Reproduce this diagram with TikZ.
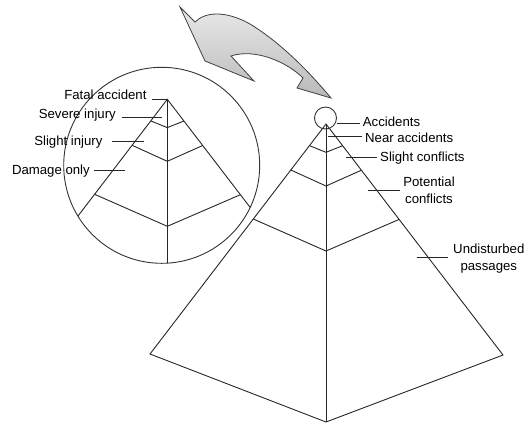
\documentclass[tikz,border=0pt]{standalone}
\usepackage{fontspec}
\setmainfont{Liberation Sans}
\usetikzlibrary{calc}
\begin{document}
\begin{tikzpicture}[x=1bp,y=-1bp,
  pyr/.style={draw=black!85,line width=0.9bp},
  lead/.style={draw=black!85,line width=0.9bp},
  lbl/.style={inner sep=0pt,font=\fontsize{13.2bp}{16.7bp}\selectfont},
  circ/.style={draw=black!80,line width=0.9bp}]
\useasboundingbox (0,0) rectangle (526,423);
\newcommand\drawpyr{%
  \coordinate (A) at (326,124);
  \coordinate (BL) at (150,354);
  \coordinate (BR) at (503,355);
  \coordinate (B) at (326,422);
  \draw[pyr] (A) -- (BL) -- (B) -- (BR) -- cycle;
  \draw[pyr] (A) -- (B);
  \draw[pyr] ($(A)!0.094!(BL)$) -- (326,152.3) -- ($(A)!0.094!(BR)$);
  \draw[pyr] ($(A)!0.200!(BL)$) -- (326,186) -- ($(A)!0.200!(BR)$);
  \draw[pyr] ($(A)!0.413!(BL)$) -- (326,251) -- ($(A)!0.413!(BR)$);
}
% big pyramid
\drawpyr
% magnifier circle with clipped copy
\node[circle,minimum size=196bp,inner sep=0pt] (mag) at (161.7,165.3) {};
\begin{scope}
  \clip (161.7,165.3) circle[radius=98bp];
  \begin{scope}[shift={(-158.7,-24.7)}]
    \drawpyr
  \end{scope}
\end{scope}
\draw[circ] (161.7,165.3) circle[radius=98bp];
% small circle at apex
\node[circ,circle,minimum size=22bp,inner sep=0pt] (top) at (325.5,118) {};
% curved arrow
\draw[draw=black!75,line width=0.8bp,left color=gray!18,right color=gray!55,shading angle=0]
  (180,7) -- (195,22) .. controls (205,12) and (225,10) .. (250,24)
  .. controls (278,41) and (306,68) .. (331,98) -- (297,88) -- (303,78)
  .. controls (287,62) and (255,48) .. (231,56) -- (254,81) -- (205,61) -- cycle;
% right labels
\node[lbl,anchor=base west] (acc) at (362.7,126) {Accidents};
\node[lbl,anchor=base west] (near) at (365,142.7) {Near accidents};
\node[lbl,anchor=base west] (slc) at (380,161.7) {Slight conflicts};
\node[lbl,align=center,anchor=center] (pot) at (429,190.5) {Potential\\conflicts};
\node[lbl,align=center,anchor=center] (und) at (488.8,258.5) {Undisturbed\\passages};
% left labels
\node[lbl,anchor=base east] (fat) at (146.7,99.3) {Fatal accident};
\node[lbl,anchor=base east] (sev) at (116,118.7) {Severe injury};
\node[lbl,anchor=base east] (sli) at (102.7,145.4) {Slight injury};
\node[lbl,anchor=base east] (dam) at (90,174.4) {Damage only};
% leader coordinates
\coordinate (acc1) at (336.5,123.5); \coordinate (acc2) at (360,123.5);
\coordinate (near1) at (328,136.7); \coordinate (near2) at (361.7,136.7);
\coordinate (slc1) at (346,157.3); \coordinate (slc2) at (376.7,157.3);
\coordinate (pot1) at (368.3,190); \coordinate (pot2) at (400,190);
\coordinate (und1) at (416.7,257.3); \coordinate (und2) at (448.3,257.3);
\coordinate (fat1) at (151.7,99.3); \coordinate (fat2) at (166.7,99.3);
\coordinate (sev1) at (121.7,117.3); \coordinate (sev2) at (161.7,117.3);
\coordinate (sli1) at (111.7,141.7); \coordinate (sli2) at (144,141.7);
\coordinate (dam1) at (94.3,170); \coordinate (dam2) at (125,170);
\foreach \n in {acc,near,slc,pot,und,fat,sev,sli,dam}{\draw[lead] (\n1) -- (\n2);}
\end{tikzpicture}
\end{document}
